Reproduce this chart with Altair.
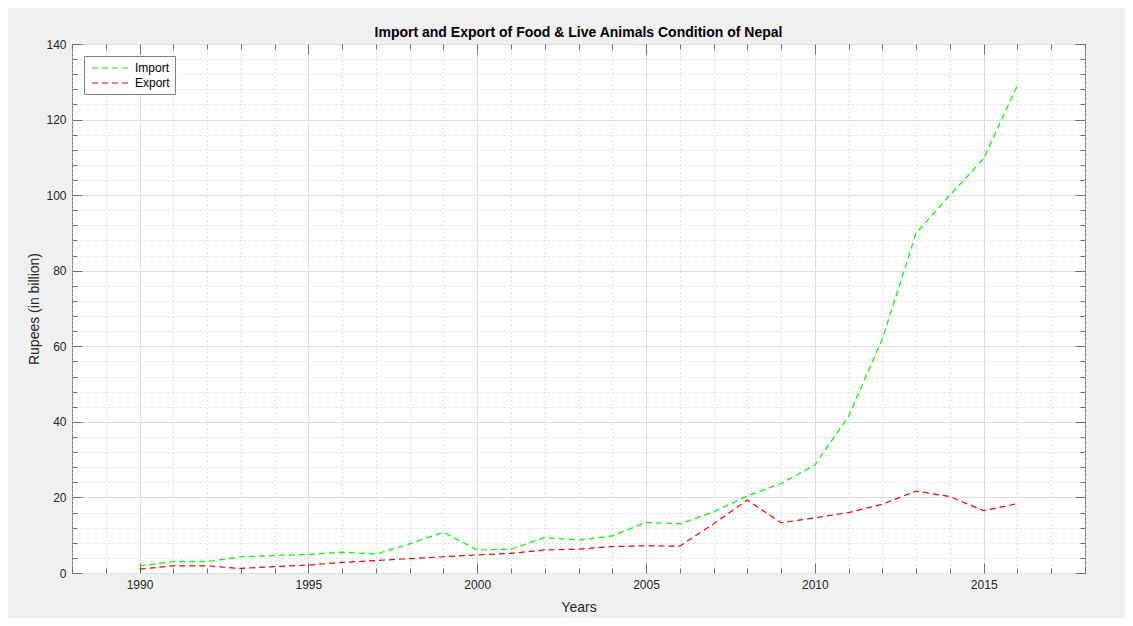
import altair as alt
import pandas as pd

years = list(range(1990, 2017))
import_vals = [1.9, 3.0, 3.0, 4.3, 4.6, 4.9, 5.5, 5.0, 7.7, 10.8, 6.1, 6.3, 9.4, 8.7,
               9.8, 13.4, 13.0, 16.2, 20.4, 23.7, 28.6, 41.5, 62.0, 90.0, 100.0, 109.7, 129.1]
export_vals = [1.0, 1.9, 1.9, 1.2, 1.7, 2.1, 2.8, 3.3, 3.8, 4.3, 4.8, 5.2, 6.1, 6.3,
               7.0, 7.2, 7.1, 13.0, 19.3, 13.3, 14.6, 16.0, 18.2, 21.7, 20.2, 16.5, 18.4]
series_names = ["Import", "Export"]
series_colors = ["#00ff00", "#ff0000"]

x_major = [1990, 1995, 2000, 2005, 2010, 2015]
x_minor = [y for y in range(1988, 2019) if y not in x_major]
y_major = [0, 20, 40, 60, 80, 100, 120, 140]
y_minor = [v for v in range(0, 141, 4) if v not in y_major]

df = pd.DataFrame({
    "Year": years * 2,
    "Value": import_vals + export_vals,
    "Series": ["Import"] * len(years) + ["Export"] * len(years),
})

xscale = alt.Scale(domain=[1988, 2018], nice=False, zero=False)
yscale = alt.Scale(domain=[0, 140], nice=False, zero=True)

TICK = "#707070"
FONT = "Liberation Sans"


def ax(values, grid=False, grid_dash=None, grid_color="#e3e3e3", tick=-5,
       labels=False, title=None, orient="bottom", pad=16, title_pad=6):
    kw = dict(values=values, orient=orient, domain=False, grid=grid,
              tickSize=alt.ExprRef(expr=str(tick)), tickColor=TICK, tickWidth=1,
              labels=labels, title=title)
    if grid:
        kw["gridColor"] = grid_color
        kw["gridWidth"] = 1
        if grid_dash:
            kw["gridDash"] = grid_dash
    if labels:
        kw.update(labelFont=FONT, labelFontSize=12, labelColor="#262626",
                  labelPadding=pad, format="d")
    if title:
        kw.update(titleFont=FONT, titleFontSize=14, titleFontWeight="normal",
                  titleColor="#262626", titlePadding=title_pad)
    return alt.Axis(**kw)


base = alt.Chart(df)

minor_layer = base.mark_line(opacity=0).encode(
    x=alt.X("Year:Q", scale=xscale,
            axis=ax(x_minor, grid=True, grid_dash=[1, 3], grid_color="#c8c8c8", tick=-5)),
    y=alt.Y("Value:Q", scale=yscale,
            axis=ax(y_minor, grid=True, grid_dash=[1, 3], grid_color="#c8c8c8", tick=-5,
                    orient="left")),
    detail="Series:N",
)

top_right_minor = base.mark_line(opacity=0).encode(
    x=alt.X("Year:Q", scale=xscale, axis=ax(x_minor, tick=-5, orient="top")),
    y=alt.Y("Value:Q", scale=yscale, axis=ax(y_minor, tick=-5, orient="right")),
    detail="Series:N",
)

top_right_major = base.mark_line(opacity=0).encode(
    x=alt.X("Year:Q", scale=xscale, axis=ax(x_major, tick=-10, orient="top")),
    y=alt.Y("Value:Q", scale=yscale, axis=ax(y_major, tick=-10, orient="right")),
    detail="Series:N",
)

lines = base.mark_line(strokeDash=[6, 4], strokeWidth=1.2).encode(
    x=alt.X("Year:Q", scale=xscale,
            axis=ax(x_major, grid=True, grid_color="#dedede", tick=-10, labels=True,
                    title="Years", orient="bottom", pad=16, title_pad=10)),
    y=alt.Y("Value:Q", scale=yscale,
            axis=ax(y_major, grid=True, grid_color="#dedede", tick=-10, labels=True,
                    title="Rupees (in billion)", orient="left", pad=16, title_pad=4)),
    color=alt.Color(
        "Series:N",
        scale=alt.Scale(domain=series_names, range=series_colors),
        sort=series_names,
        legend=alt.Legend(
            title=None, orient="none", legendX=12, legendY=12,
            symbolType="M-1,0L5.33,0", symbolSize=144, symbolStrokeWidth=1.2,
            symbolDash=[6, 4], symbolOffset=2,
            labelFont=FONT, labelFontSize=12, labelColor="#000000",
            strokeColor="#808080", fillColor="#ffffff", padding=5, rowPadding=2,
            labelOffset=30,
        ),
    ),
)

chart = alt.layer(minor_layer, top_right_minor, top_right_major, lines).resolve_axis(
    x="independent", y="independent"
).properties(
    width=1013,
    height=529,
    title=alt.TitleParams(
        "Import and Export of Food & Live Animals Condition of Nepal",
        font=FONT, fontSize=14, fontWeight="bold", color="#000000", offset=-2,
        anchor="middle",
    ),
    autosize=alt.AutoSizeParams(type="none"),
    padding={"left": 64, "top": 36, "right": 40, "bottom": 45},
).configure(
    background="#f0f0f0",
).configure_view(
    fill="#ffffff", stroke="#7a7a7a", strokeWidth=1,
)

chart.save("out.html", embed_options={"renderer": "svg", "actions": False})
